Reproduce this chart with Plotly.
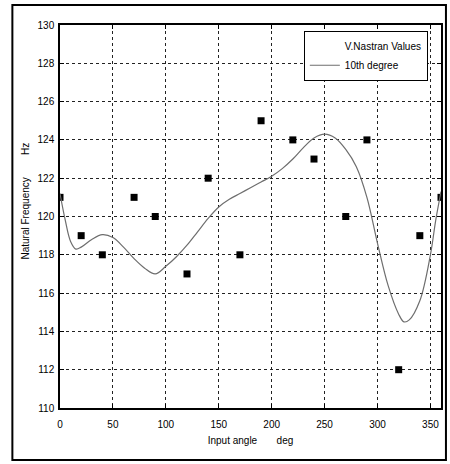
import plotly.graph_objects as go

# Measured points (V.Nastran values)
angle_pts = [0, 20, 40, 70, 90, 120, 140, 170, 190, 220, 240, 270, 290, 320, 340, 360]
freq_pts = [121, 119, 118, 121, 120, 117, 122, 118, 125, 124, 123, 120, 124, 112, 119, 121]

# 10th degree fit curve
angle_fit = [0, 5, 10, 15, 20, 30, 40, 50, 60, 70, 80, 90, 100, 110, 120, 130, 140, 150,
             160, 170, 180, 190, 200, 210, 220, 230, 240, 250, 260, 270, 280, 290, 300,
             310, 320, 325, 330, 340, 350, 355, 360]
freq_fit = [121.2, 119.8, 118.7, 118.3, 118.4, 118.8, 119.05, 118.9, 118.4, 117.8, 117.3,
            117.0, 117.4, 117.9, 118.5, 119.2, 119.9, 120.5, 120.9, 121.2, 121.5, 121.8,
            122.1, 122.5, 123.0, 123.6, 124.1, 124.3, 124.1, 123.5, 122.6, 121.0, 118.6,
            116.4, 114.9, 114.5, 114.6, 115.6, 118.0, 119.8, 121.3]

x_ticks = [0, 50, 100, 150, 200, 250, 300, 350]
y_ticks = [110, 112, 114, 116, 118, 120, 122, 124, 126, 128, 130]

FONT = "Liberation Sans"

fig = go.Figure()
fig.add_trace(go.Scatter(x=angle_pts, y=freq_pts, mode="markers",
                         marker=dict(symbol="square", size=7, color="black"),
                         showlegend=False, cliponaxis=True))
fig.add_trace(go.Scatter(x=[None], y=[None], mode="markers",
                         marker=dict(size=1, color="rgba(0,0,0,0)"),
                         name="V.Nastran Values"))
fig.add_trace(go.Scatter(x=angle_fit, y=freq_fit, mode="lines", line_shape="spline",
                         line=dict(color="#6e6e6e", width=1.2),
                         name="10th degree"))

axis_common = dict(showline=True, linecolor="black", linewidth=1.5, mirror="ticks",
                   ticks="inside", ticklen=4, tickcolor="black",
                   showgrid=True, gridcolor="#222222", griddash="dot", gridwidth=1,
                   zeroline=False, tickfont=dict(family=FONT, size=10, color="black"))

fig.update_layout(
    width=450, height=464,
    margin=dict(l=60, r=7, t=25, b=56),
    paper_bgcolor="white", plot_bgcolor="white",
    font=dict(family=FONT, size=10, color="black"),
    xaxis=dict(range=[0, 360], tickvals=x_ticks, ticklabelstandoff=6,
               title=dict(text="Input angle       deg", standoff=8,
                          font=dict(family=FONT, size=10)),
               **axis_common),
    yaxis=dict(range=[110, 130], tickvals=y_ticks, ticklabelstandoff=2,
               **axis_common),
    legend=dict(x=0.64, y=0.985, xanchor="left", yanchor="top",
                bgcolor="white", bordercolor="black", borderwidth=1,
                font=dict(family=FONT, size=10), tracegroupgap=0,
                itemwidth=30),
    annotations=[dict(text="Natural Frequency        Hz", textangle=-90,
                      xref="paper", yref="paper", x=-0.091, y=0.54,
                      xanchor="center", yanchor="middle", showarrow=False,
                      font=dict(family=FONT, size=10, color="black"))],
    shapes=[dict(type="rect", xref="paper", yref="paper",
                 x0=-0.125, x1=1.013, y0=-0.136, y1=1.052,
                 line=dict(color="black", width=2), layer="above")],
)

fig.write_html("out.html")
